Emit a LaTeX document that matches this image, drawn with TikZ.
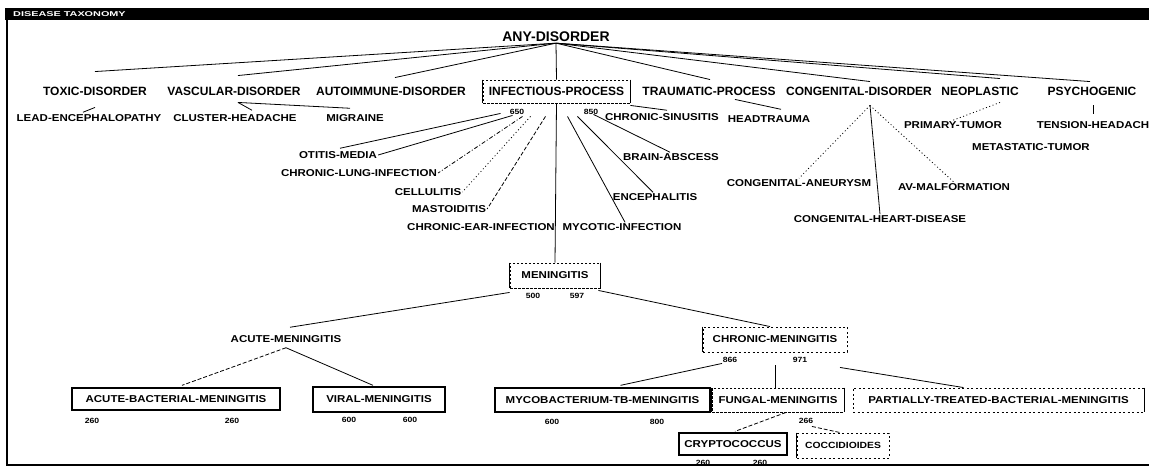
\documentclass[tikz,border=0pt]{standalone}
\usepackage{fontspec}
\usepackage{graphicx}
\usetikzlibrary{calc}
\newfontfamily\dgwide{Liberation Sans}[FakeStretch=1.15]
\newfontfamily\dgnorm{Liberation Sans}
\newcommand\dgfone{\dgnorm\bfseries\fontsize{12}{13}\selectfont}
\newcommand\dgftwo{\dgwide\bfseries\fontsize{10}{12}\selectfont}
\newcommand\dgftop{\dgnorm\bfseries\fontsize{14}{16}\selectfont}
\newcommand\dgfnum{\dgwide\bfseries\fontsize{7.5}{8}\selectfont}
\begin{document}
\begin{tikzpicture}[x=1pt,y=-1pt,
  lvlone/.style={font=\dgfone, inner sep=1pt},
  lvltwo/.style={font=\dgftwo, inner sep=1pt},
  topnode/.style={font=\dgftop, inner sep=1pt},
  numlbl/.style={font=\dgfnum, inner sep=0.5pt},
  solidbox/.style={font=\dgftwo, draw, line width=1.3pt, inner sep=0pt},
  dashbox/.style={font=\dgftwo, draw, line width=0.9pt, dash pattern=on 2.5pt off 1.5pt, inner sep=0pt},
  solidsides/.style={line width=1.1pt},
  conn/.style={line width=0.8pt},
  dotconn/.style={conn, dash pattern=on 1pt off 2.5pt},
  dashconn/.style={conn, dash pattern=on 4pt off 2pt},
  dashdotconn/.style={conn, dash pattern=on 4pt off 2pt on 1pt off 2pt},
]
\useasboundingbox (0,0) rectangle (1149,470);
% frame
\fill[black] (5,8) rectangle (1149,20);
\node[anchor=west, text=white, font=\dgnorm\bfseries\fontsize{7}{8}\selectfont, inner sep=0pt] (title) at (13,14.5) {\scalebox{1.55}[1]{DISEASE TAXONOMY}};

% top
\node[topnode] (any) at (556,37) {ANY-DISORDER};
% level 1
\node[lvlone] (toxic) at (95,91) {TOXIC-DISORDER};
\node[lvlone] (vasc) at (234,91) {VASCULAR-DISORDER};
\node[lvlone] (auto) at (391,91) {AUTOIMMUNE-DISORDER};
\node[dashbox, font=\dgfone, minimum width=147pt, minimum height=23pt] (infect) at (556.5,91.5) {INFECTIOUS-PROCESS};
\node[lvlone] (trauma) at (709,91) {TRAUMATIC-PROCESS};
\node[lvlone] (cong) at (859,91) {CONGENITAL-DISORDER};
\node[lvlone] (neo) at (980,91) {NEOPLASTIC};
\node[lvlone] (psych) at (1092,91) {PSYCHOGENIC};

% level 2
\node[lvltwo] (lead) at (89,118) {LEAD-ENCEPHALOPATHY};
\node[lvltwo] (cluster) at (235,118) {CLUSTER-HEADACHE};
\node[lvltwo] (migraine) at (355,118) {MIGRAINE};
\node[numlbl] (n650) at (517,112) {650};
\node[numlbl] (n850) at (591,112) {850};
\node[lvltwo] (sinus) at (662,117) {CHRONIC-SINUSITIS};
\node[lvltwo] (headtr) at (769,119) {HEADTRAUMA};
\node[lvltwo] (primary) at (953,125) {PRIMARY-TUMOR};
\node[lvltwo] (tension) at (1093,125) {TENSION-HEADACH};
\node[lvltwo] (metast) at (1031,147) {METASTATIC-TUMOR};
\node[lvltwo] (otitis) at (338,155) {OTITIS-MEDIA};
\node[lvltwo] (lung) at (359,173) {CHRONIC-LUNG-INFECTION};
\node[lvltwo] (cellul) at (428,192) {CELLULITIS};
\node[lvltwo] (masto) at (449,209) {MASTOIDITIS};
\node[lvltwo] (ear) at (481,227) {CHRONIC-EAR-INFECTION};
\node[lvltwo] (mycotic) at (622,227) {MYCOTIC-INFECTION};
\node[lvltwo] (enceph) at (655,197) {ENCEPHALITIS};
\node[lvltwo] (brain) at (671,157) {BRAIN-ABSCESS};
\node[lvltwo] (caneur) at (799,183) {CONGENITAL-ANEURYSM};
\node[lvltwo] (avmal) at (954,187) {AV-MALFORMATION};
\node[lvltwo] (cheart) at (880,219) {CONGENITAL-HEART-DISEASE};

% meningitis subtree
\node[dashbox, minimum width=90pt, minimum height=25pt] (mening) at (555,275.5) {MENINGITIS};
\node[numlbl] (n500) at (533,296) {500};
\node[numlbl] (n597) at (577,296) {597};
\node[lvltwo] (acute) at (286,339) {ACUTE-MENINGITIS};
\node[dashbox, dash pattern=on 2pt off 2.5pt, minimum width=144pt, minimum height=25pt] (chronm) at (775,339.5) {CHRONIC-MENINGITIS};
\node[numlbl] (n866) at (730,360) {866};
\node[numlbl] (n971) at (800,360) {971};
\node[solidbox, minimum width=208pt, minimum height=22pt] (acuteb) at (176,399) {ACUTE-BACTERIAL-MENINGITIS};
\node[solidbox, minimum width=132pt, minimum height=25pt] (viral) at (379,399.5) {VIRAL-MENINGITIS};
\node[solidbox, minimum width=215pt, minimum height=24pt] (mycob) at (602.5,400) {MYCOBACTERIUM-TB-MENINGITIS};
\node[dashbox, minimum width=132pt, minimum height=24pt] (fungal) at (778,400) {FUNGAL-MENINGITIS};
\node[dashbox, dash pattern=on 2pt off 2.5pt, minimum width=291pt, minimum height=24pt] (partial) at (998.5,400) {PARTIALLY-TREATED-BACTERIAL-MENINGITIS};
\node[solidbox, minimum width=108pt, minimum height=22pt] (crypto) at (733,444) {CRYPTOCOCCUS};
\node[dashbox, dash pattern=on 2pt off 2.5pt, font=\dgwide\bfseries\fontsize{9}{11}\selectfont, minimum width=92pt, minimum height=25pt] (cocci) at (843,445.5) {COCCIDIOIDES};
\node[numlbl] (nab1) at (92,421) {260};
\node[numlbl] (nab2) at (232,421) {260};
\node[numlbl] (nvi1) at (349,420) {600};
\node[numlbl] (nvi2) at (410,420) {600};
\node[numlbl] (nmy1) at (552,422) {600};
\node[numlbl] (nmy2) at (657,422) {800};
\node[numlbl] (nfu) at (806,421) {266};
\node[numlbl] (ncr1) at (703,463) {260};
\node[numlbl] (ncr2) at (760,463) {260};

% solid sides of the dotted boxes
\foreach \b in {infect,mening,fungal}{
  \draw[solidsides] (\b.north west) -- (\b.south west);
  \draw[solidsides] (\b.north east) -- (\b.south east);
}
\draw[solidsides] (partial.north east) -- (partial.south east);
\draw[solidsides] (chronm.north west) -- (chronm.south west);
\draw[solidsides] (cocci.north west) -- (cocci.south west);

% connectors: top level
\draw[conn] (any.south) -- ($(toxic.north)+(0,-14)$);
\draw[conn] (any.south) -- ($(vasc.north)+(4,-10)$);
\draw[conn] (any.south) -- ($(auto.north)+(4,-8)$);
\draw[conn] (any.south) -- (infect.north);
\draw[conn] (any.south) -- ($(trauma.north)+(1,-6)$);
\draw[conn] (any.south) -- ($(cong.north)+(11,-4)$);
\draw[conn] (any.south) -- ($(neo.north)+(20,-7)$);
\draw[conn] (any.south) -- ($(psych.north)+(-2,-4)$);

% level 1 children
\draw[conn] ($(toxic.south)+(0,11)$) -- ($(lead.north)+(-6,-1)$);
\draw[conn] ($(vasc.south)+(4,6)$) -- ($(migraine.north)+(-5,-5)$);
\draw[conn] ($(vasc.south)+(4,6)$) -- ($(cluster.north)+(17,-3)$);
\draw[conn] ($(psych.south)+(1,9)$) -- ($(tension.north)+(0,-6)$);
\draw[conn] ($(trauma.south)+(26,3)$) -- ($(headtr.north)+(12,-5)$);

% infectious process fan
\draw[conn] ($(infect.south)+(-56,10)$) -- ($(otitis.north)+(2,-2)$);
\draw[conn] ($(infect.south)+(-44,12)$) -- (otitis.east);
\draw[dashdotconn] ($(infect.south)+(-34,13)$) -- (lung.east);
\draw[dotconn] ($(infect.south)+(-26,13)$) -- (cellul.east);
\draw[dashconn] ($(infect.south)+(-11,13)$) -- (masto.east);
\draw[conn] (infect.south) -- (mening.north);
\draw[conn] ($(infect.south)+(11,13)$) -- ($(mycotic.north)+(3,0)$);
\draw[conn] ($(infect.south)+(21,13)$) -- ($(enceph.north)+(-2,0)$);
\draw[conn] ($(infect.south)+(37,11)$) -- ($(brain.north)+(-1,0)$);
\draw[conn] ($(infect.south east)+(0,2)$) -- ($(sinus.north)+(5,-2)$);

% congenital, neoplastic
\draw[dotconn] ($(cong.south)+(11,9)$) -- (caneur.north);
\draw[conn] ($(cong.south)+(11,9)$) -- (cheart.north);
\draw[dotconn] ($(cong.south)+(11,9)$) -- (avmal.north);
\draw[dotconn] ($(neo.south)+(20,6)$) -- (primary.north);

% meningitis
\draw[conn] ($(mening.south west)+(0,4)$) -- ($(acute.north)+(4,-7)$);
\draw[conn] ($(mening.south east)+(-2,2)$) -- ($(chronm.north)+(-5,0)$);
\draw[dashconn] ($(acute.south)+(0,4)$) -- ($(acuteb.north)+(6,-2)$);
\draw[conn] ($(acute.south)+(0,4)$) -- ($(viral.north)+(-6,-1)$);
\draw[conn] ($(chronm.south)+(-53,11)$) -- ($(mycob.north)+(18,-2)$);
\draw[conn] ($(chronm.south)+(0,13)$) -- ($(fungal.north)+(-3,0)$);
\draw[conn] ($(chronm.south)+(65,15)$) -- ($(partial.north)+(-35,0)$);
\draw[dashconn] ($(fungal.south)+(8,0)$) -- ($(crypto.north)+(2,-1)$);
\draw[dashconn] ($(fungal.south)+(34,14)$) -- ($(cocci.north)+(-3,0)$);

% frame lines
\draw[line width=1.5pt] (7,20) -- (7,465) -- (1149,465);
\end{tikzpicture}
\end{document}
